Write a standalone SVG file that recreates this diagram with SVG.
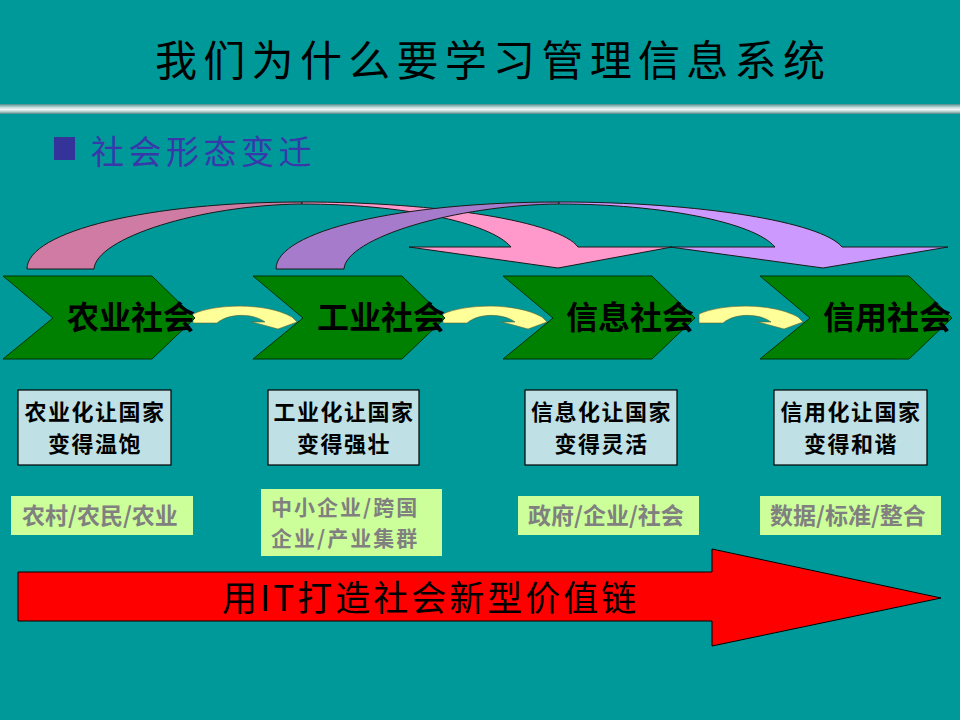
<svg xmlns="http://www.w3.org/2000/svg" xmlns:xlink="http://www.w3.org/1999/xlink" width="960" height="720" viewBox="0 0 960 720">
<style>
.cjk{font-family:"Noto Sans CJK SC","Liberation Sans",sans-serif}
.title{font-size:42px;fill:#000;letter-spacing:6.3px}
.sub{font-size:33px;fill:#3838aa;letter-spacing:4.5px}
.chev{fill:#008000;stroke:#003300;stroke-width:1}
.clabel{font-size:32px;fill:#000;font-weight:700}
.yarrow{fill:#ffff99;stroke:#666633;stroke-width:0.6}
.ibox{fill:#bfe0e4;stroke:#000;stroke-width:1.2}
.itext{font-size:22px;fill:#000;font-weight:700;text-anchor:middle;letter-spacing:1.5px}
.gbox{fill:#ccff99}
.gtext{font-size:23px;fill:#808080;font-weight:700}
.gtext2{font-size:21px;fill:#808080;font-weight:700;letter-spacing:2px}
.band{stroke:#1a1a1a;stroke-width:1}
</style>
<defs>
<linearGradient id="sep" x1="0" y1="0" x2="0" y2="1">
<stop offset="0" stop-color="#4f8a8a"/>
<stop offset="0.3" stop-color="#b8d4d4"/>
<stop offset="0.55" stop-color="#eef6f6"/>
<stop offset="0.8" stop-color="#a9c8c8"/>
<stop offset="1" stop-color="#4f8080"/>
</linearGradient>
<path id="chevShape" d="M3,276 L152,276 L195,318 L152,359 L3,359 L53,318 Z"/>
<path id="yShape" d="M193,314 C215,304 265,302 292,317 L297,322 L278,329 L252,322 L265,322 C255,314 230,312 217,323 L193,323 Z"/>
</defs>
<rect x="0" y="0" width="960" height="720" fill="#009999"/>
<rect x="0" y="104" width="960" height="10" fill="url(#sep)"/>
<g id="title"><text class="cjk title" x="155" y="76">我们为什么要学习管理信息系统</text></g>
<g id="subtitle">
<rect x="54" y="137" width="21" height="23" fill="#333399"/>
<text class="cjk sub" x="91" y="164">社会形态变迁</text>
</g>
<g id="connectors">
<g id="arc-pink">
<path class="band" fill="#d07ba4" d="M27,269 C27,231 150,202 302,202 L302,204 C200,205 96,238 94,269 Z"/>
<path class="band" fill="#ff99cc" d="M302,202 C440,202 560,222 578,247 L672,247 L558,268 L409,247 L511,247 C490,222 400,204 302,204 Z"/>
</g>
<g id="arc-purple">
<path class="band" fill="#a77bcc" d="M276,269 C276,231 400,202 559,202 L559,204 C455,205 346,238 344,269 Z"/>
<path class="band" fill="#cc99ff" d="M559,202 C700,202 822,222 842,247 L948,247 L823,268 L670,247 L775,247 C754,222 660,204 559,204 Z"/>
</g>
<use xlink:href="#yShape" class="yarrow"/>
<use xlink:href="#yShape" class="yarrow" transform="translate(250,0)"/>
<use xlink:href="#yShape" class="yarrow" transform="translate(506,0)"/>
</g>
<g id="node-agri">
<use xlink:href="#chevShape" class="chev"/>
<text class="cjk clabel" x="67" y="329">农业社会</text>
</g>
<g id="node-ind">
<use xlink:href="#chevShape" class="chev" transform="translate(250,0)"/>
<text class="cjk clabel" x="317" y="329">工业社会</text>
</g>
<g id="node-info">
<use xlink:href="#chevShape" class="chev" transform="translate(500,0)"/>
<text class="cjk clabel" x="566" y="329">信息社会</text>
</g>
<g id="node-credit">
<use xlink:href="#chevShape" class="chev" transform="translate(757,0)"/>
<text class="cjk clabel" x="823" y="329">信用社会</text>
</g>
<g id="box-agri">
<rect class="ibox" x="18" y="390" width="153" height="75"/>
<text class="cjk itext" x="95" y="420">农业化让国家</text>
<text class="cjk itext" x="95" y="452">变得温饱</text>
</g>
<g id="box-ind">
<rect class="ibox" x="268" y="390" width="151" height="75"/>
<text class="cjk itext" x="344" y="420">工业化让国家</text>
<text class="cjk itext" x="344" y="452">变得强壮</text>
</g>
<g id="box-info">
<rect class="ibox" x="525" y="390" width="152" height="75"/>
<text class="cjk itext" x="601.5" y="420">信息化让国家</text>
<text class="cjk itext" x="601.5" y="452">变得灵活</text>
</g>
<g id="box-credit">
<rect class="ibox" x="774" y="390" width="153" height="75"/>
<text class="cjk itext" x="851" y="420">信用化让国家</text>
<text class="cjk itext" x="851" y="452">变得和谐</text>
</g>
<g id="tag-agri">
<rect class="gbox" x="11" y="496" width="182" height="39"/>
<text class="cjk gtext" x="22" y="524">农村/农民/农业</text>
</g>
<g id="tag-ind">
<rect class="gbox" x="261" y="489" width="181" height="67"/>
<text class="cjk gtext2" x="271" y="515">中小企业/跨国</text>
<text class="cjk gtext2" x="271" y="546">企业/产业集群</text>
</g>
<g id="tag-info">
<rect class="gbox" x="518" y="496" width="181" height="39"/>
<text class="cjk gtext" x="528" y="524">政府/企业/社会</text>
</g>
<g id="tag-credit">
<rect class="gbox" x="760" y="496" width="181" height="39"/>
<text class="cjk gtext" x="770" y="524">数据/标准/整合</text>
</g>
<g id="big-arrow">
<path d="M18,572 L712,572 L712,549 L941,598 L712,646 L712,621 L18,621 Z" fill="#ff0000" stroke="#000" stroke-width="1"/>
<text class="cjk" x="222" y="611" font-size="35" letter-spacing="3" fill="#000">用IT打造社会新型价值链</text>
</g>
</svg>
